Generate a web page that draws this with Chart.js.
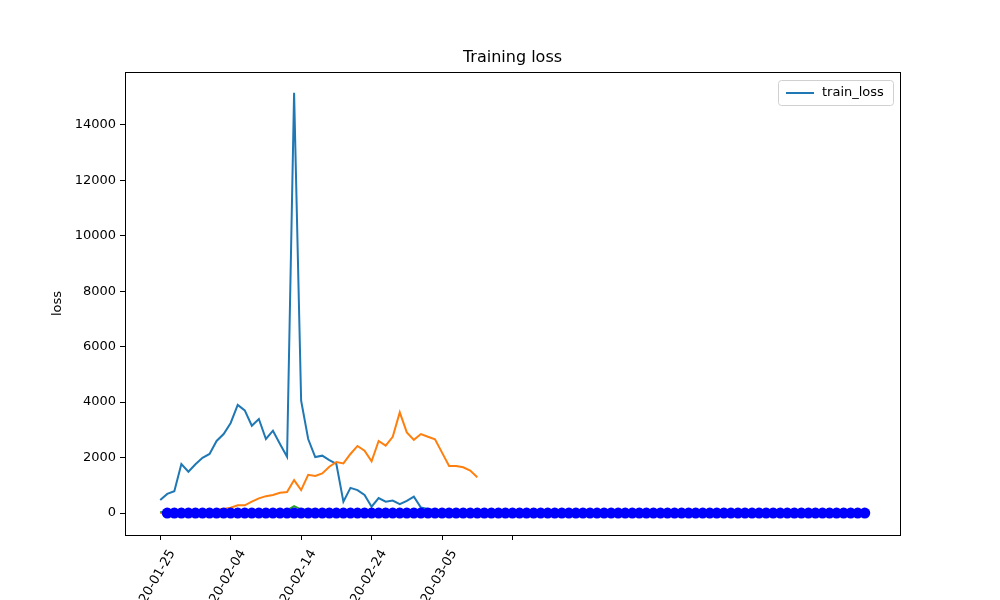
<!DOCTYPE html>
<html lang="en">
<head>
    <meta charset="UTF-8">
    <title>Training loss</title>
    <style>
        body { margin: 0; background: #fff; }
        #lossChart { display: block; }
    </style>
    <script src="https://cdn.jsdelivr.net/npm/chart.js"></script>
</head>
<body>
    <canvas id="lossChart" width="1000" height="600"></canvas>

    <script>
        // day index 0 = 2020-01-25
        const startDate = new Date(Date.UTC(2020, 0, 25));
        const blueLoss = [470, 690, 790, 1770, 1490, 1760, 1990, 2130, 2600, 2850,
            3250, 3900, 3700, 3150, 3390, 2670, 2970, 2490, 2030, 15150,
            4050, 2670, 2020, 2070, 1910, 1770, 410, 910, 830, 650,
            230, 540, 410, 450, 320, 440, 590, 200, 150, 100,
            110, 120, 100, 90, 80];
        const orangeLoss = [0, 10, 20, 30, 40, 60, 80, 100, 120, 150,
            190, 280, 280, 410, 530, 610, 650, 730, 760, 1190,
            830, 1380, 1340, 1430, 1670, 1840, 1790, 2130, 2420, 2250,
            1870, 2600, 2430, 2750, 3630, 2910, 2640, 2850, 2750, 2660,
            2180, 1700, 1700, 1650, 1530, 1290];
        const greenLoss = [40, 50, 40, 60, 50, 60, 70, 60, 80, 70,
            80, 90, 70, 80, 90, 80, 100, 90, 100, 250,
            120, 130, 120, 110, 120, 100, 90, 100, 90, 80,
            70, 80, 60, 70, 60, 50, 60, 50, 40];
        const dotDays = Array.from({ length: 100 }, (_, i) => i + 1);
        const dotValues = dotDays.map(() => 0);
        const yTicks = [0, 2000, 4000, 6000, 8000, 10000, 12000, 14000];
        const xTickDays = [0, 10, 20, 30, 40, 50];

        function toPoints(values, offset) {
            return values.map((v, i) => ({ x: i + offset, y: v }));
        }

        function dayLabel(d) {
            if (d >= 50) return '';
            const dt = new Date(startDate.getTime() + d * 86400000);
            return dt.toISOString().slice(0, 10);
        }

        const font = 'DejaVu Sans';

        // title, y label, frame and legend box like matplotlib
        const decorPlugin = {
            id: 'decor',
            afterDraw(chart) {
                const ctx = chart.ctx;
                const area = chart.chartArea;
                ctx.save();
                ctx.strokeStyle = '#000';
                ctx.lineWidth = 1;
                ctx.strokeRect(Math.round(area.left) + 0.5, Math.round(area.top) + 0.5,
                    Math.round(area.right - area.left), Math.round(area.bottom - area.top));
                ctx.fillStyle = '#000';
                ctx.font = '16px ' + font;
                ctx.textAlign = 'center';
                ctx.textBaseline = 'bottom';
                ctx.fillText('Training loss', (area.left + area.right) / 2, area.top - 6);

                ctx.translate(58, (area.top + area.bottom) / 2);
                ctx.rotate(-Math.PI / 2);
                ctx.font = '13px ' + font;
                ctx.textBaseline = 'middle';
                ctx.fillText('loss', 0, 0);
                ctx.restore();

                ctx.save();
                ctx.strokeStyle = '#d0d0d0';
                ctx.fillStyle = 'rgba(255,255,255,0.8)';
                ctx.lineWidth = 1;
                ctx.beginPath();
                ctx.roundRect(778.5, 80.5, 115, 25, 3);
                ctx.fill();
                ctx.stroke();
                ctx.strokeStyle = '#1f77b4';
                ctx.lineWidth = 2;
                ctx.beginPath();
                ctx.moveTo(786, 93);
                ctx.lineTo(814, 93);
                ctx.stroke();
                ctx.fillStyle = '#000';
                ctx.font = '13px ' + font;
                ctx.textBaseline = 'middle';
                ctx.fillText('train_loss', 822, 93);
                ctx.restore();
            }
        };

        new Chart(document.getElementById('lossChart'), {
            type: 'line',
            data: {
                datasets: [
                    { label: 'train_loss', data: toPoints(blueLoss, 0), borderColor: '#1f77b4', borderWidth: 2, pointRadius: 0, order: 4 },
                    { label: 'orange', data: toPoints(orangeLoss, 0), borderColor: '#ff7f0e', borderWidth: 2, pointRadius: 0, order: 3 },
                    { label: 'green', data: toPoints(greenLoss, 0), borderColor: '#2ca02c', borderWidth: 2, pointRadius: 0, order: 2 },
                    { label: 'dots', data: dotDays.map((d, i) => ({ x: d, y: dotValues[i] })), borderColor: '#0000ff', backgroundColor: '#0000ff', borderWidth: 2, pointRadius: 5.5, pointBorderWidth: 0, order: 1 }
                ]
            },
            options: {
                responsive: false,
                animation: false,
                layout: { padding: { left: 0, right: 100, top: 72, bottom: 0 } },
                plugins: { legend: { display: false }, tooltip: { enabled: false } },
                scales: {
                    x: {
                        type: 'linear',
                        min: -5,
                        max: 105,
                        afterFit(scale) { scale.height = 65; },
                        afterBuildTicks(scale) { scale.ticks = xTickDays.map(v => ({ value: v })); },
                        grid: { drawOnChartArea: false, tickLength: 5, tickColor: '#000' },
                        border: { color: '#000' },
                        ticks: {
                            autoSkip: false,
                            minRotation: 60,
                            maxRotation: 60,
                            labelOffset: 12,
                            padding: 7,
                            color: '#000',
                            font: { family: font, size: 13 },
                            callback: v => dayLabel(v)
                        }
                    },
                    y: {
                        min: -790,
                        max: 15900,
                        afterFit(scale) { scale.width = 125; },
                        afterBuildTicks(scale) { scale.ticks = yTicks.map(v => ({ value: v })); },
                        grid: { drawOnChartArea: false, tickLength: 5, tickColor: '#000' },
                        border: { color: '#000' },
                        ticks: { color: '#000', font: { family: font, size: 13 }, padding: 4, callback: v => String(v) }
                    }
                }
            },
            plugins: [decorPlugin]
        });
    </script>
</body>
</html>
